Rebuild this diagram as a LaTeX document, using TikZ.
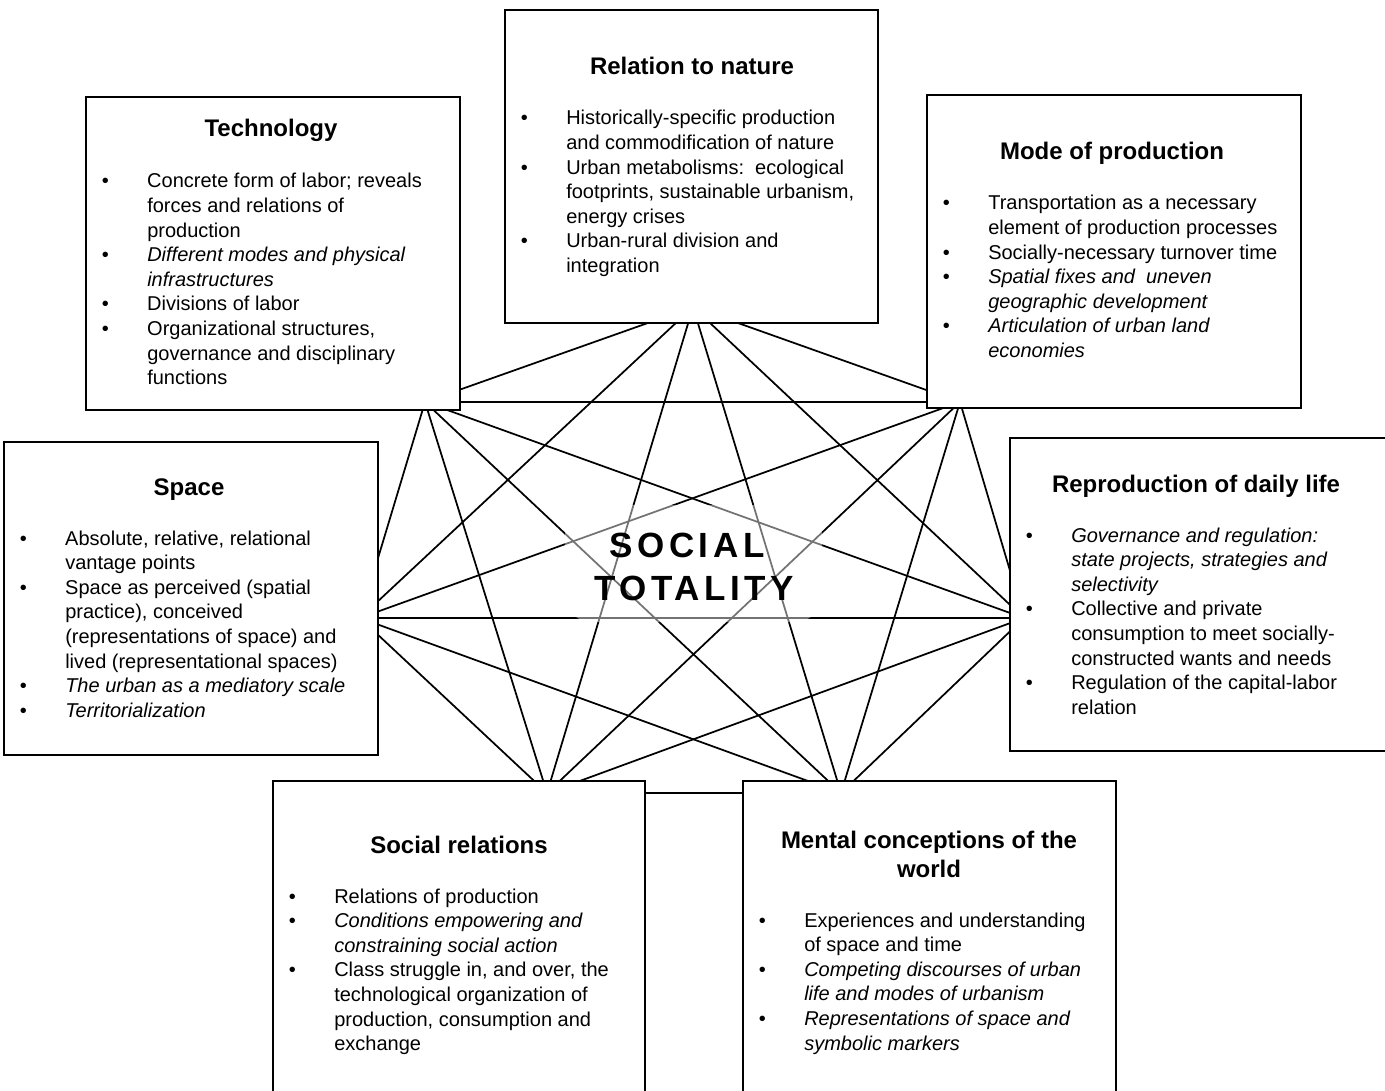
\documentclass[tikz,border=0pt]{standalone}
\usepackage{fontspec}
\setmainfont{Liberation Sans}
\newfontfamily\spacedfont[LetterSpace=13]{Liberation Sans}

% indentation from bullet to item text
\newlength\bulind
\setlength\bulind{34.125pt}

% bulleted item with hanging indentation
\newcommand\bitem[1]{\par\hangindent=\bulind\hangafter=1\noindent\makebox[\bulind][l]{\textbullet}#1}
% block of items set at body size
\newcommand\itemlist[1]{\begin{minipage}[t]{300pt}\fontsize{15pt}{18.45pt}\selectfont\rightskip=0pt plus 1fil\relax #1\end{minipage}}

\tikzset{
  link/.style={line width=1.3pt, line cap=round},
  panel/.style 2 args={draw, fill=white, line width=1.4pt, inner sep=0pt, outer sep=0pt,
    minimum width=#1*0.75pt, minimum height=#2*0.75pt},
  heading/.style={anchor=base, inner sep=0pt, font=\fontsize{18pt}{21.75pt}\selectfont\bfseries},
  listing/.style={anchor=base west, inner sep=0pt},
  centre/.style={anchor=base, inner sep=0pt, font=\fontsize{26.25pt}{30pt}\spacedfont\bfseries},
}

\begin{document}
\begin{tikzpicture}[x=0.75pt,y=-0.75pt]
\fill[white] (0,0) rectangle (1385,1091);
\useasboundingbox (0,0) rectangle (1385,1091);

% meeting points of the connectors, one per dimension
\coordinate (hR) at (693,307);
\coordinate (hT) at (425,402);
\coordinate (hM) at (960,402);
\coordinate (hS) at (360,618);
\coordinate (hP) at (1024,618);
\coordinate (hC) at (547,793);
\coordinate (hW) at (841,793);

% every dimension linked with every other
\foreach \a/\b in {R/T,R/M,R/S,R/P,R/C,R/W,T/M,T/S,T/P,T/C,T/W,M/S,M/P,M/C,M/W,S/P,S/C,S/W,P/C,P/W,C/W}
  \draw[link] (h\a) -- (h\b);

% soft haze behind the central label
\fill[white, fill opacity=0.45, rounded corners=20pt] (565,505) rectangle (822,622);
\node[centre] (st1) at (687,557) {SOCIAL};
\node[centre] (st2) at (694,600) {TOTALITY};

% Relation to nature
\node[panel={373}{313}] (nature) at (691.5,166.5) {};
\node[heading] (natureT) at (692,75) {Relation to nature};
\node[listing] (natureL) at (520.5,125) {\itemlist{%
  \bitem{Historically-specific production\\ and commodification of nature}
  \bitem{Urban metabolisms:\ \ ecological\\ footprints, sustainable urbanism,\\ energy crises}
  \bitem{Urban-rural division and\\ integration}}};

% Technology
\node[panel={374}{313}] (tech) at (273,253.5) {};
\node[heading] (techT) at (271,137) {Technology};
\node[listing] (techL) at (101.5,188) {\itemlist{%
  \bitem{Concrete form of labor; reveals\\ forces and relations of\\ production}
  \bitem{\textit{Different modes and physical\\ infrastructures}}
  \bitem{Divisions of labor}
  \bitem{Organizational structures,\\ governance and disciplinary\\ functions}}};

% Mode of production
\node[panel={374}{313}] (mode) at (1114,251.5) {};
\node[heading] (modeT) at (1112,160) {Mode of production};
\node[listing] (modeL) at (942.5,210) {\itemlist{%
  \bitem{Transportation as a necessary\\ element of production processes}
  \bitem{Socially-necessary turnover time}
  \bitem{\textit{Spatial fixes and\ \ uneven\\ geographic development}}
  \bitem{\textit{Articulation of urban land\\ economies}}}};

% Space
\node[panel={374}{313}] (space) at (191,598.5) {};
\node[heading] (spaceT) at (189,495) {Space};
\node[listing] (spaceL) at (19.5,545) {\itemlist{%
  \bitem{Absolute, relative, relational\\ vantage points}
  \bitem{Space as perceived (spatial\\ practice), conceived\\ (representations of space) and\\ lived (representational spaces)}
  \bitem{\textit{The urban as a mediatory scale}}
  \bitem{\textit{Territorialization}}}};

% Reproduction of daily life
\node[panel={377}{313}] (repro) at (1198.5,594.5) {};
\node[heading] (reproT) at (1196,492) {Reproduction of daily life};
\node[listing] (reproL) at (1025.5,542) {\itemlist{%
  \bitem{\textit{Governance and regulation:\\ state projects, strategies and\\ selectivity}}
  \bitem{Collective and private\\ consumption to meet socially-\\ constructed wants and needs}
  \bitem{Regulation of the capital-labor\\ relation}}};

% Social relations
\node[panel={372}{313}] (social) at (459,937.5) {};
\node[heading] (socialT) at (459,853) {Social relations};
\node[listing] (socialL) at (288.5,903) {\itemlist{%
  \bitem{Relations of production}
  \bitem{\textit{Conditions empowering and\\ constraining social action}}
  \bitem{Class struggle in, and over, the\\ technological organization of\\ production, consumption and\\ exchange}}};

% Mental conceptions of the world
\node[panel={373}{313}] (mental) at (929.5,937.5) {};
\node[heading] (mentalT) at (929,848) {Mental conceptions of the};
\node[heading] (mentalT2) at (929,877) {world};
\node[listing] (mentalL) at (758.5,927) {\itemlist{%
  \bitem{Experiences and understanding\\ of space and time}
  \bitem{\textit{Competing discourses of urban\\ life and modes of urbanism}}
  \bitem{\textit{Representations of space and\\ symbolic markers}}}};
\end{tikzpicture}
\end{document}
